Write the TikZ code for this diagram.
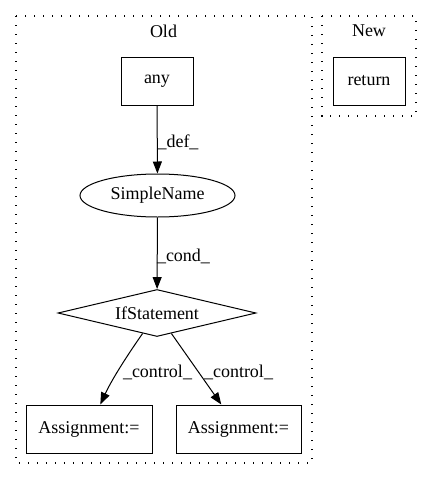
\documentclass[tikz,border=0pt]{standalone}
\usepackage{fontspec}
\setmainfont{Liberation Serif}
\usetikzlibrary{
	shapes.geometric,
	arrows.meta
}

\begin{document}
\begin{tikzpicture}[
	x = 1pt, y = -1pt,
	every node/.style = {
		font=\fontsize{18}{20}\selectfont,
		inner sep=0pt
	},
	box/.style = {
		rectangle, draw, line width=1pt,
		minimum width=#1, minimum height=48pt
	},
	cluster/.style = {
		draw, line width=1.3pt,
		dash pattern=on 1.3pt off 7.7pt
	},
	edge/.style = {
		draw, line width=1pt,
		-{Triangle[length=12pt,width=9pt]}
	}
]
	\useasboundingbox (0,0) rectangle (432,480);
	% clusters
	\draw [cluster] (16,16) rectangle (312,463);
	\draw [cluster] (322,16) rectangle (416,116);
	\node (old) at (163.5,31) {Old};
	\node (new) at (369,31) {New};
	% nodes
	\node [box=72pt] (any) at (157,81) {any};
	\node [box=72pt] (return) at (369,81) {return};
	\node [ellipse, draw, line width=1pt,
		minimum width=155pt, minimum height=43pt] (simplename) at (157.5,195.5) {SimpleName};
	\node [diamond, draw, line width=1pt, shape aspect=4.2,
		minimum width=198pt, minimum height=47pt] (ifstmt) at (157,313) {IfStatement};
	\node [box=126pt] (assign1) at (89,429) {Assignment:=};
	\node [box=125pt] (assign2) at (238.5,429) {Assignment:=};
	% edges
	\draw [edge] (any) -- (simplename);
	\draw [edge] (simplename) -- (ifstmt);
	\draw [edge] (ifstmt) .. controls (131,350) and (113,377) .. (assign1);
	\draw [edge] (ifstmt) -- (assign2);
	% labels
	\node (def) at (178,142) {\_def\_};
	\node (cond) at (183.5,256) {\_cond\_};
	\node (ctrl1) at (157.5,372) {\_control\_};
	\node (ctrl2) at (238.5,372) {\_control\_};
\end{tikzpicture}
\end{document}
